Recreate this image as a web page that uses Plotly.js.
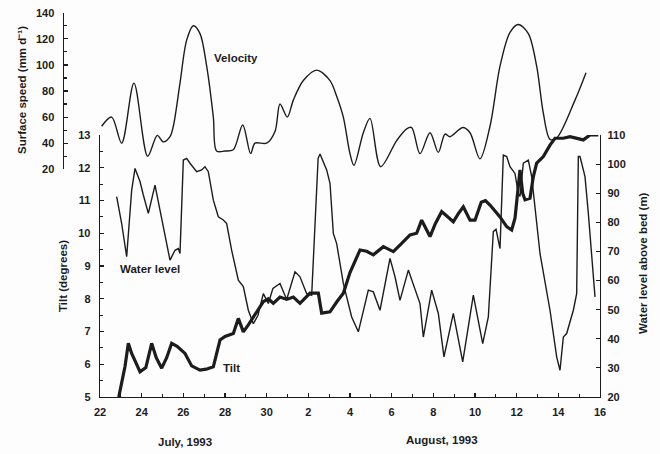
<!DOCTYPE html>
<html>
<head>
<meta charset="utf-8">
<script src="https://cdn.plot.ly/plotly-3.0.1.min.js"></script>
<style>
  html, body { margin: 0; padding: 0; background: #fdfdfd; }
  #chart { width: 660px; height: 454px; }
</style>
</head>
<body>
<div id="chart"></div>
<script>
// Time axis in running days: 22-30 are July, then August days follow on (32 -> "2", 46 -> "16").
const tickDays = [22,24,26,28,30,32,34,36,38,40,42,44,46];
const tickLabels = ['22','24','26','28','30','2','4','6','8','10','12','14','16'];

// Surface speed (mm d-1)
const velocityDays = [22.08,22.56,23.04,23.63,24.29,24.75,25.04,25.36,25.52,25.84,26.16,26.48,26.8,27.12,27.44,27.6,28.0,28.4,28.85,29.23,29.44,30.0,30.4,30.64,30.99,31.28,31.76,32.4,33.04,33.36,33.68,34.0,34.19,34.64,34.96,35.47,36.24,36.72,36.96,37.36,37.84,38.24,38.56,38.8,39.42,39.76,40.24,40.72,41.2,41.68,42.08,42.56,42.96,43.28,43.6,43.92,44.8,45.33];
const velocityValues = [53,60,40,86,30,46,41,45,53,86,119,130,124,99,60,34,34,35,54,32,40,40,49,70,60,73,88,96,88,76,60,32,23,48,59,22,42,51,52,32,48,33,47,45,52,48,28,53,99,125,131,124,99,63,43,44,73,94];

// Water level above bed (m)
const levelDays = [22.8,23.04,23.28,23.52,23.68,23.92,24.08,24.32,24.64,24.88,25.12,25.36,25.6,25.76,25.84,26.0,26.16,26.32,26.64,26.88,27.04,27.2,27.44,27.68,27.92,28.08,28.32,28.64,28.88,29.12,29.36,29.58,29.84,30.08,30.3,30.64,30.96,31.36,31.6,31.92,32.16,32.24,32.37,32.47,32.56,32.88,33.04,33.2,33.36,33.68,34.08,34.4,34.88,35.12,35.44,35.92,36.16,36.4,36.8,37.36,37.52,37.92,38.24,38.51,38.96,39.41,39.92,40.37,40.64,40.88,41.01,41.2,41.36,41.52,41.68,41.92,42.08,42.16,42.32,42.56,42.72,42.88,43.12,43.6,43.92,44.08,44.24,44.4,44.72,44.88,44.96,45.04,45.28,45.44,45.6,45.76];
const levelValues = [88.8,79.6,68.2,91,98.5,94,89.4,83.1,92.8,84.2,75,67,70.4,71,69.3,101.4,102,100.3,97.4,98,99.1,97.4,87.6,81.9,80.8,79.6,70.4,60.1,57.9,49.8,45.2,48,55.5,52.1,57.3,59,53.5,63,61.3,55.5,54.9,67,89.9,102,103.5,98,93.4,76.2,72.7,59,47.5,42.4,56.7,56.1,49.8,67.6,61.3,53.2,63.6,52.1,40.6,56.7,48.7,33.8,48.7,32.1,55,38.3,47.5,76.8,77.6,71,103.1,102.6,99.1,96.8,89.9,88.9,100.3,101.4,95.7,84.2,69.3,49.8,33.8,29.2,40.6,41.8,49.8,55.5,102.6,102.6,95.7,83.1,69.3,54.4];

// Tilt (degrees)
const tiltDays = [22.9,23.2,23.36,23.44,23.52,23.92,24.2,24.48,24.7,24.96,25.2,25.44,25.7,26.08,26.4,26.8,27.1,27.44,27.76,28.0,28.4,28.64,28.88,29.12,29.36,29.6,29.84,30.08,30.32,30.64,30.96,31.28,31.6,32.08,32.48,32.64,33.04,33.36,33.68,34.0,34.32,34.48,34.8,35.12,35.6,36.08,36.48,36.88,37.2,37.44,37.84,38.1,38.4,38.7,38.96,39.2,39.44,39.76,40.0,40.3,40.5,40.72,41.2,41.52,41.76,41.92,42.08,42.16,42.29,42.4,42.64,42.8,42.96,43.28,43.6,43.84,44.24,44.56,45.2,45.52,45.92];
const tiltValues = [5.0,5.93,6.64,6.45,6.33,5.77,5.9,6.64,6.2,5.88,6.2,6.64,6.55,6.33,5.95,5.82,5.85,5.92,6.74,6.85,6.94,7.4,6.99,7.2,7.45,7.7,7.91,8.0,7.86,8.05,7.98,8.05,7.86,8.17,8.17,7.56,7.6,7.9,8.17,8.8,9.28,9.49,9.45,9.34,9.59,9.44,9.69,9.95,10.0,10.4,9.9,10.3,10.66,10.5,10.35,10.6,10.81,10.4,10.4,10.95,11.0,10.86,10.5,10.2,10.1,10.46,11.42,11.93,11.22,11.02,11.07,11.73,12.14,12.34,12.69,12.9,12.9,12.95,12.85,13.0,13.0];

const ink = '#1c1c1c';
const tickFont = { family: 'Liberation Sans, Arial, sans-serif', size: 11, color: ink, weight: 'bold' };
const labelFont = { family: 'Liberation Sans, Arial, sans-serif', size: 11.5, color: ink, weight: 'bold' };

const traces = [
  { x: velocityDays, y: velocityValues, xaxis: 'x', yaxis: 'y3', mode: 'lines',
    line: { color: ink, width: 1.4, shape: 'spline', smoothing: 0.9 }, hoverinfo: 'skip' },
  { x: levelDays, y: levelValues, xaxis: 'x', yaxis: 'y2', mode: 'lines',
    line: { color: ink, width: 1.4 }, hoverinfo: 'skip' },
  { x: tiltDays, y: tiltValues, xaxis: 'x', yaxis: 'y', mode: 'lines',
    line: { color: ink, width: 3.2 }, hoverinfo: 'skip' }
];

// Plot area: x 40..620 px, y 10..414 px
const axisBase = {
  showgrid: false, zeroline: false, showline: true, linecolor: ink, linewidth: 1.3,
  ticks: 'inside', ticklen: 4, tickwidth: 1.2, tickcolor: ink, tickfont: tickFont
};

const layout = {
  width: 660, height: 454,
  margin: { l: 40, r: 40, t: 10, b: 40 },
  paper_bgcolor: '#fdfdfd', plot_bgcolor: 'rgba(0,0,0,0)',
  showlegend: false,
  xaxis: Object.assign({}, axisBase, {
    domain: [60/580, 560/580], range: [22, 46], anchor: 'y',
    tickmode: 'array', tickvals: tickDays, ticktext: tickLabels, ticklabelstandoff: 4,
    minor: { dtick: 1, tick0: 22, ticks: 'inside', ticklen: 3, tickcolor: ink, showgrid: false }
  }),
  yaxis: Object.assign({}, axisBase, {
    domain: [17/404, 279/404], range: [5, 13], anchor: 'x',
    tickmode: 'linear', tick0: 5, dtick: 1, ticklabelstandoff: 6,
    minor: { dtick: 0.5, ticks: 'inside', ticklen: 3, tickcolor: ink, showgrid: false }
  }),
  yaxis2: Object.assign({}, axisBase, {
    overlaying: 'y', side: 'right', anchor: 'x', range: [20, 110],
    tickmode: 'linear', tick0: 20, dtick: 10, ticklabelstandoff: 4
  }),
  yaxis3: Object.assign({}, axisBase, {
    domain: [244.7/404, 401.3/404], range: [20, 140], anchor: 'free', position: 22.5/580,
    tickmode: 'linear', tick0: 20, dtick: 20, ticklabelstandoff: 6,
    minor: { dtick: 10, ticks: 'inside', ticklen: 3, tickcolor: ink, showgrid: false }
  }),
  annotations: [
    { text: 'Velocity', x: (236-40)/580, y: (414-58)/404 },
    { text: 'Water level', x: (150-40)/580, y: (414-269)/404 },
    { text: 'Tilt', x: (231-40)/580, y: (414-368)/404 },
    { text: 'July, 1993', x: (185-40)/580, y: (414-442)/404 },
    { text: 'August, 1993', x: (442-40)/580, y: (414-440)/404 },
    { text: 'Surface speed (mm d\u207B\u00B9)', x: (22-40)/580, y: (414-90)/404, textangle: -90 },
    { text: 'Tilt (degrees)', x: (63-40)/580, y: (414-276)/404, textangle: -90 },
    { text: 'Water level above bed (m)', x: (643-40)/580, y: (414-263)/404, textangle: -90 }
  ].map(a => Object.assign({ xref: 'paper', yref: 'paper', xanchor: 'center', yanchor: 'middle',
                             showarrow: false, font: labelFont }, a))
};

Plotly.newPlot('chart', traces, layout, { staticPlot: true, displayModeBar: false });
</script>
</body>
</html>
